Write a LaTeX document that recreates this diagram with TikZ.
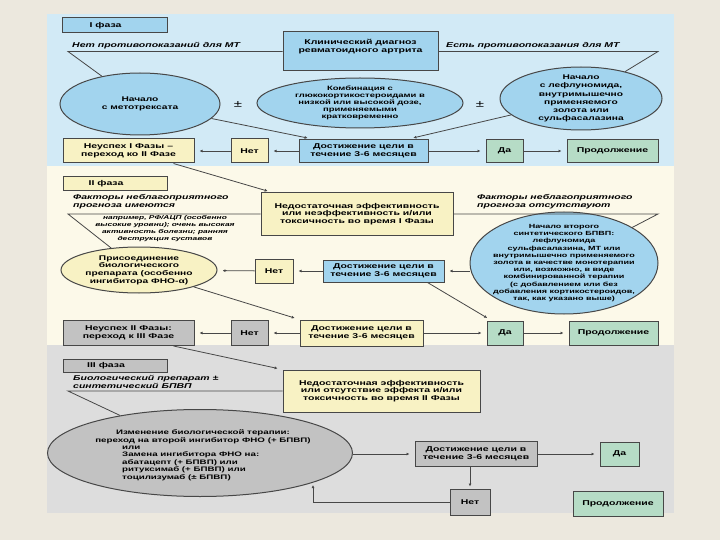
\documentclass[tikz,border=0pt]{standalone}
\usepackage{fontspec}
\setmainfont{Liberation Sans}[FakeStretch=1.5]
\usetikzlibrary{arrows.meta}
\usetikzlibrary{shapes.geometric}

\definecolor{pagebg}{HTML}{ECE8DE}
\definecolor{bgone}{HTML}{D2EAF6}
\definecolor{bgtwo}{HTML}{FCF9E9}
\definecolor{bgthree}{HTML}{DDDDDD}
\definecolor{cblue}{HTML}{A2D4EE}
\definecolor{cyellow}{HTML}{F8F2C4}
\definecolor{cgray}{HTML}{C2C2C2}
\definecolor{cgreen}{HTML}{B6DCC6}
\definecolor{lgray}{HTML}{474747}

\newcommand\boxfont{\fontsize{7}{7.8}\selectfont\bfseries}
\newcommand\ellfont{\fontsize{6.8}{7.6}\selectfont\bfseries}
\newcommand\cuefont{\fontsize{7}{8}\selectfont\bfseries\itshape}
\newcommand\notefont{\fontsize{5.6}{7}\selectfont\bfseries\itshape}

\tikzset{
  box/.style={draw=lgray, line width=1pt, inner sep=0pt, align=center, font=\boxfont},
  ell/.style={ellipse, draw=lgray, line width=1pt, inner sep=0pt},
  etext/.style={inner sep=0pt, align=center, font=\ellfont},
  cue/.style={inner sep=0pt, align=left, font=\cuefont},
  conn/.style={draw=lgray, line width=0.8pt},
  arr/.style={conn, -{Latex[length=3pt,width=3pt]}, shorten >=5pt},
}

\begin{document}
\begin{tikzpicture}[x=1pt, y=-1pt]
  \useasboundingbox (0,0) rectangle (720,540);

  % 背景
  \fill[pagebg] (0,0) rectangle (720,540);
  \fill[bgone] (47,14) rectangle (674,166);
  \fill[bgtwo] (47,166) rectangle (674,345);
  \fill[bgthree] (47,345) rectangle (674,513);

  % I фаза
  \node[box, fill=cblue, minimum width=105, minimum height=15] (ph1) at (114.5,25.5) {I фаза\hspace{18pt}};
  \node[box, fill=cblue, minimum width=155, minimum height=39] (dx) at (360.5,51.5) {};
  \node[etext, font=\boxfont] (dxtext) at (360.5,46.5) {Клинический диагноз\\ревматоидного артрита};
  \node[cue, anchor=base west] (nomt) at (72,48) {Нет противопоказаний для МТ};
  \node[cue, anchor=base west] (yesmt) at (446,48) {Есть противопоказания для МТ};
  \coordinate (kneeA) at (68,51.5);
  \coordinate (kneeB) at (658,51.5);

  \node[ell, fill=cblue, minimum width=160, minimum height=62] (mtx) at (140,104) {};
  \node[etext] (mtxtext) at (mtx) {Начало\\с метотрексата};
  \node[font=\fontsize{10}{10}\selectfont] (pmA) at (238,105) {±};
  \node[ell, fill=cblue, minimum width=206, minimum height=50] (gcs) at (360,103) {};
  \node[etext, font=\fontsize{6.3}{6.9}\selectfont\bfseries] (gcstext) at (gcs) {Комбинация с\\глюкокортикостероидами в\\низкой или высокой дозе,\\применяемыми\\кратковременно};
  \node[font=\fontsize{10}{10}\selectfont] (pmB) at (480,105) {±};
  \node[ell, fill=cblue, minimum width=162, minimum height=63] (lef) at (581,98.5) {};
  \node[etext, font=\fontsize{6.8}{8.2}\selectfont\bfseries] (leftext) at (lef) {Начало\\с лефлуномида,\\внутримышечно\\применяемого\\золота или\\сульфасалазина};

  \node[box, fill=cyellow, minimum width=131, minimum height=24] (failA) at (128.5,151) {Неуспех I Фазы –\\переход ко II Фазе};
  \node[box, fill=cyellow, minimum width=37, minimum height=24] (netA) at (249.5,151) {Нет};
  \node[box, fill=cblue, minimum width=129, minimum height=23] (goalA) at (363.5,151) {Достижение цели в\\течение 3-6 месяцев};
  \node[box, fill=cgreen, minimum width=37, minimum height=23] (yesA) at (504.5,151) {Да};
  \node[box, fill=cgreen, minimum width=91, minimum height=23] (contA) at (612.5,151) {Продолжение};

  \draw[conn] (dx.west) -- (kneeA) -- (mtx);
  \draw[conn] (dx.east) -- (kneeB) -- (lef);
  \draw[arr] (mtx) -- ([xshift=14pt]goalA.north west);
  \draw[arr] (lef) -- ([xshift=-20pt]goalA.north east);
  \draw[arr] (goalA) -- (netA);
  \draw[arr] (netA) -- (failA);
  \draw[arr] (goalA) -- (yesA);
  \draw[arr] (yesA) -- (contA);

  % II фаза
  \node[box, fill=cyellow, minimum width=104, minimum height=14] (ph2) at (115,184) {II фаза\hspace{18pt}};
  \node[box, fill=cyellow, minimum width=192, minimum height=42] (insA) at (357,214) {Недостаточная эффективность\\или неэффективность и/или\\токсичность во время I Фазы};
  \node[cue, anchor=north west] (badyes) at (73,194) {Факторы неблагоприятного\\прогноза имеются};
  \node[cue, anchor=north west] (badno) at (477,194) {Факторы неблагоприятного\\прогноза отсутствуют};
  \node[etext, font=\notefont] (egtext) at (165,228.5) {например, РФ/АЦП (особенно\\высокие уровни); очень высокая\\активность болезни; ранняя\\деструкция суставов};
  \coordinate (kneeC) at (68,214);
  \coordinate (kneeD) at (658,214);

  \node[ell, fill=cblue, minimum width=188, minimum height=102] (dmard) at (564,263) {};
  \node[etext, font=\fontsize{6}{7.2}\selectfont\bfseries] (dmardtext) at (dmard) {Начало второго\\синтетического БПВП:\\лефлуномида\\сульфасалазина, МТ или\\внутримышечно применяемого\\золота в качестве монотерапии\\или, возможно, в виде\\комбинированной терапии\\(с добавлением или без\\добавления кортикостероидов,\\так, как указано выше)};
  \node[ell, fill=cyellow, minimum width=156, minimum height=46] (bio) at (139,270) {};
  \node[etext] (biotext) at (bio) {Присоединение\\биологического\\препарата (особенно\\ингибитора ФНО-α)};
  \node[box, fill=cyellow, minimum width=38, minimum height=24] (netB) at (274,271) {Нет};
  \node[box, fill=cblue, minimum width=121, minimum height=22] (goalB) at (383.5,271) {Достижение цели в\\течение 3-6 месяцев};

  \node[box, fill=cgray, minimum width=131, minimum height=25] (failB) at (128.5,333) {Неуспех II Фазы:\\переход к III Фазе};
  \node[box, fill=cgray, minimum width=37, minimum height=25] (netC) at (249.5,333) {Нет};
  \node[box, fill=cyellow, minimum width=123, minimum height=26] (goalC) at (361.5,333) {Достижение цели в\\течение 3-6 месяцев};
  \node[box, fill=cgreen, minimum width=36, minimum height=24] (yesB) at (505,333) {Да};
  \node[box, fill=cgreen, minimum width=89, minimum height=24] (contB) at (613.5,333) {Продолжение};

  \draw[arr] ([xshift=-21pt]failA.south east) -- ([xshift=12pt]insA.north west);
  \draw[conn] (insA.west) -- (kneeC) -- (bio);
  \draw[conn] (insA.east) -- (kneeD) -- (dmard);
  \draw[arr] (goalB -| dmard.west) -- (goalB);
  \draw[arr] (goalB) -- (netB);
  \draw[arr] (netB) -- (bio);
  \draw[arr] ([xshift=-17pt]goalB.south east) -- ([xshift=5pt]yesB.north west);
  \draw[arr] (bio) -- (goalC.north west);
  \draw[arr] (goalC) -- (netC);
  \draw[arr] (netC) -- (failB);
  \draw[arr] (goalC) -- (yesB);
  \draw[arr] (yesB) -- (contB);

  % III фаза
  \node[box, fill=cgray, minimum width=104, minimum height=13] (ph3) at (115,365.5) {III фаза\hspace{18pt}};
  \node[cue, anchor=north west] (biokey) at (73,375) {Биологический препарат ±\\синтетический БПВП};
  \node[box, fill=cyellow, minimum width=197, minimum height=42] (insB) at (381.5,391) {Недостаточная эффективность\\или отсутствие эффекта и/или\\токсичность во время II Фазы};
  \coordinate (kneeE) at (68,391);

  \node[ell, fill=cgray, minimum width=305, minimum height=87] (swap) at (200,453) {};
  \node[etext, font=\fontsize{6.5}{7.6}\selectfont\bfseries] (swaptop) at (203,436.5) {Изменение биологической терапии:\\переход на второй ингибитор ФНО (+ БПВП)};
  \node[etext, font=\fontsize{6.5}{7.6}\selectfont\bfseries, align=left, anchor=north west] (swaplist) at (122,445.5) {или\\Замена ингибитора ФНО на:\\абатацепт (+ БПВП) или\\ритуксимаб (+ БПВП) или\\тоцилизумаб (± БПВП)};
  \node[box, fill=cgray, minimum width=122, minimum height=25] (goalD) at (476,454) {Достижение цели в\\течение 3-6 месяцев};
  \node[box, fill=cgreen, minimum width=39, minimum height=24] (yesC) at (619.5,454) {Да};
  \node[box, fill=cgray, minimum width=40, minimum height=26] (netD) at (470,502) {Нет};
  \node[box, fill=cgreen, minimum width=90, minimum height=25] (contC) at (618,503.5) {Продолжение};
  \coordinate (backin) at (313,482);

  \draw[arr] ([xshift=-21pt]failB.south east) -- (insB.north west);
  \draw[conn] (insB.west) -- (kneeE) -- (swap);
  \draw[arr] (goalD -| swap.east) -- (goalD);
  \draw[arr] (goalD) -- (yesC);
  \draw[arr, shorten >=2pt] (goalD.south -| netD) -- (netD);
  \draw[arr, shorten >=3pt] (netD.west) -| (backin);
\end{tikzpicture}
\end{document}
